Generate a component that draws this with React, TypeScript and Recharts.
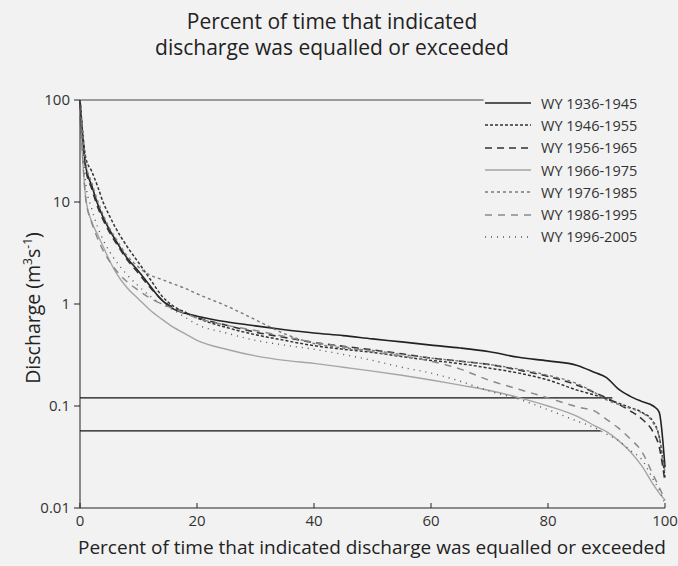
import React from 'react';
import { LineChart, Line, XAxis, YAxis, ReferenceLine } from 'recharts';

const FONT = '"Open Sans", "Noto Sans", sans-serif';

// percent of time exceeded
const pct = [0, 1, 2, 3, 4, 5, 6, 8, 10, 12, 14, 16, 18, 20, 25, 30, 35, 40, 45, 50, 55, 60, 65, 70, 75, 80, 85, 88, 90, 92, 94, 96, 98, 99, 100];

// discharge, m3/s
const wy1936 = [100, 22, 14.5, 9.6, 7.0, 5.4, 4.3, 2.85, 2.1, 1.5, 1.09, 0.89, 0.81, 0.76, 0.67, 0.61, 0.56, 0.52, 0.49, 0.455, 0.425, 0.395, 0.37, 0.34, 0.30, 0.277, 0.25, 0.213, 0.19, 0.147, 0.125, 0.111, 0.10, 0.087, 0.025];
const wy1946 = [100, 27, 20, 14.3, 9.8, 7.4, 5.7, 3.7, 2.55, 1.75, 1.2, 0.95, 0.83, 0.73, 0.59, 0.50, 0.44, 0.39, 0.36, 0.335, 0.305, 0.28, 0.26, 0.235, 0.21, 0.18, 0.143, 0.128, 0.117, 0.107, 0.097, 0.087, 0.07, 0.05, 0.02];
const wy1956 = [100, 21, 13.5, 9.0, 6.6, 5.1, 4.1, 2.75, 2.0, 1.45, 1.1, 0.92, 0.82, 0.74, 0.62, 0.53, 0.47, 0.42, 0.385, 0.355, 0.325, 0.295, 0.275, 0.255, 0.225, 0.195, 0.16, 0.135, 0.12, 0.105, 0.09, 0.075, 0.055, 0.04, 0.018];
const wy1966 = [70, 10.8, 6.4, 4.8, 3.6, 2.7, 2.1, 1.45, 1.12, 0.87, 0.71, 0.59, 0.51, 0.44, 0.36, 0.31, 0.28, 0.262, 0.24, 0.22, 0.2, 0.18, 0.16, 0.142, 0.121, 0.1, 0.079, 0.064, 0.056, 0.046, 0.036, 0.026, 0.017, 0.014, 0.012];
const wy1976 = [100, 24, 15.5, 10.3, 7.4, 5.6, 4.5, 3.0, 2.3, 1.92, 1.74, 1.57, 1.42, 1.26, 0.96, 0.70, 0.51, 0.41, 0.37, 0.35, 0.32, 0.295, 0.275, 0.255, 0.23, 0.2, 0.165, 0.135, 0.115, 0.104, 0.095, 0.086, 0.068, 0.05, 0.022];
const wy1986 = [90, 10.5, 6.3, 4.4, 3.3, 2.65, 2.2, 1.66, 1.36, 1.14, 1.0, 0.9, 0.81, 0.73, 0.62, 0.55, 0.48, 0.42, 0.38, 0.34, 0.31, 0.275, 0.23, 0.178, 0.146, 0.12, 0.098, 0.089, 0.074, 0.061, 0.048, 0.036, 0.021, 0.016, 0.012];
const wy1996 = [85, 15, 8.6, 5.7, 4.2, 3.3, 2.7, 1.95, 1.5, 1.19, 1.0, 0.87, 0.74, 0.63, 0.52, 0.44, 0.395, 0.36, 0.32, 0.28, 0.24, 0.21, 0.175, 0.14, 0.117, 0.092, 0.071, 0.061, 0.053, 0.046, 0.037, 0.03, 0.019, 0.015, 0.011];

// the two horizontal reference flows and where they stop
const refLevels = [0.12, 0.057];
const refEnds = [91, 89];
// top frame line runs only up to the legend
const frameTop = 100;
const frameEnd = 69;

const xTicks = [0, 20, 40, 60, 80, 100];
const yTicks = [0.01, 0.1, 1, 10, 100];

const series = [
  { key: 'wy1936', name: 'WY 1936-1945', values: wy1936, stroke: '#222', width: 1.6, dash: undefined },
  { key: 'wy1946', name: 'WY 1946-1955', values: wy1946, stroke: '#333', width: 1.5, dash: '3 2' },
  { key: 'wy1956', name: 'WY 1956-1965', values: wy1956, stroke: '#333', width: 1.6, dash: '7 5' },
  { key: 'wy1966', name: 'WY 1966-1975', values: wy1966, stroke: '#a5a5a5', width: 1.4, dash: undefined },
  { key: 'wy1976', name: 'WY 1976-1985', values: wy1976, stroke: '#7a7a7a', width: 1.4, dash: '3 3' },
  { key: 'wy1986', name: 'WY 1986-1995', values: wy1986, stroke: '#8a8a8a', width: 1.5, dash: '7 6' },
  { key: 'wy1996', name: 'WY 1996-2005', values: wy1996, stroke: '#555', width: 1.4, dash: '1 5' },
];

const data = pct.map((p, i) => {
  const row: Record<string, number> = { p };
  series.forEach((s) => {
    row[s.key] = s.values[i];
  });
  return row;
});

const LegendBox = () => (
  <div style={{ position: 'absolute', left: 485, top: 92, fontFamily: FONT, fontSize: 14.5, color: '#333' }}>
    {series.map((s) => (
      <div key={s.key} style={{ display: 'flex', alignItems: 'center', height: 22.3 }}>
        <svg width={48} height={6}>
          <line x1={0} y1={3} x2={46} y2={3} stroke={s.stroke} strokeWidth={s.width} strokeDasharray={s.dash} />
        </svg>
        <span style={{ marginLeft: 8 }}>{s.name}</span>
      </div>
    ))}
  </div>
);

const App = () => {
  return (
    <div style={{ position: 'relative', width: 678, height: 566, background: '#f2f2f2', overflow: 'hidden' }}>
      <style>{'body { margin: 0; background: #f2f2f2; }'}</style>
      <div
        style={{
          position: 'absolute', left: 0, top: 8, width: 664, textAlign: 'center',
          fontFamily: FONT, fontSize: 21, lineHeight: '26px', color: '#222',
        }}
      >
        Percent of time that indicated
        <br />
        discharge was equalled or exceeded
      </div>

      <LineChart width={678} height={566} data={data} margin={{ top: 100, right: 13, bottom: 28, left: 20 }}>
        <XAxis
          dataKey="p"
          type="number"
          domain={[0, 100]}
          ticks={xTicks}
          height={30}
          stroke="#222"
          tickSize={-5}
          tickMargin={12}
          tick={{ fill: '#333', fontSize: 15, fontFamily: FONT }}
        />
        <YAxis
          type="number"
          scale="log"
          domain={[0.01, 100]}
          allowDataOverflow
          ticks={yTicks}
          width={60}
          stroke="#222"
          tickSize={6}
          tickMargin={4}
          tick={{ fill: '#333', fontSize: 15, fontFamily: FONT }}
        />
        <ReferenceLine
          segment={[{ x: 0, y: frameTop }, { x: frameEnd, y: frameTop }]}
          stroke="#444"
          strokeWidth={1.2}
        />
        {refLevels.map((lvl, i) => (
          <ReferenceLine
            key={`ref-${i}`}
            segment={[{ x: 0, y: lvl }, { x: refEnds[i], y: lvl }]}
            stroke="#111"
            strokeWidth={1.3}
          />
        ))}
        {series.map((s) => (
          <Line
            key={s.key}
            dataKey={s.key}
            name={s.name}
            type="monotone"
            stroke={s.stroke}
            strokeWidth={s.width}
            strokeDasharray={s.dash}
            dot={false}
            isAnimationActive={false}
          />
        ))}
      </LineChart>

      <LegendBox />

      <div style={{ position: 'absolute', left: 32, top: 308, width: 0, height: 0 }}>
        <div
          style={{
            position: 'absolute', left: 0, top: 0, transform: 'translate(-50%, -50%) rotate(-90deg)',
            whiteSpace: 'nowrap', fontFamily: FONT, fontSize: 19.5, color: '#222',
          }}
        >
          Discharge (m<sup style={{ fontSize: 12 }}>3</sup>s<sup style={{ fontSize: 12 }}>-1</sup>)
        </div>
      </div>

      <div
        style={{
          position: 'absolute', left: 78, top: 534, whiteSpace: 'nowrap',
          fontFamily: FONT, fontSize: 19, color: '#222',
        }}
      >
        Percent of time that indicated discharge was equalled or exceeded
      </div>
    </div>
  );
};

export default App;
